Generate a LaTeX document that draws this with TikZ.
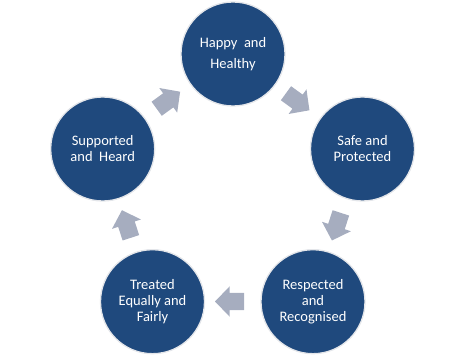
\documentclass[tikz,border=0pt]{standalone}
\usepackage{fontspec}
\setmainfont{Carlito}
\usetikzlibrary{shapes.arrows}
\definecolor{circblue}{RGB}{31,73,125}
\definecolor{arrgray}{RGB}{166,173,191}
\definecolor{ringgray}{RGB}{228,230,234}
\tikzset{
  stage/.style={circle, fill=circblue, draw=ringgray, line width=1.3pt,
    minimum size=104pt, inner sep=0pt, text=white, align=center,
    font=\fontsize{14.5}{16}\selectfont},
  cyclearrow/.style={single arrow, fill=arrgray, draw=none, inner xsep=0pt,
    inner ysep=8.5pt, minimum height=29pt, minimum width=0pt,
    single arrow head extend=6.5pt, single arrow tip angle=92}
}
\begin{document}
\begin{tikzpicture}[x=1pt,y=1pt]
\useasboundingbox (0,0) rectangle (466,356);
\node[stage] (happy) at (233,302) {Happy\ \ and\\[5.5pt]Healthy};
\node[stage] (safe) at (362.5,207) {Safe and\\Protected};
\node[stage] (resp) at (313,54.3) {Respected\\and\\Recognised};
\node[stage] (treat) at (152.5,54.3) {Treated\\Equally and\\Fairly};
\node[stage] (supp) at (102.7,207) {Supported\\and\ \ Heard};
\node[cyclearrow, rotate=36] (a1) at (165,253.3) {};
\node[cyclearrow, rotate=-36] (a2) at (294.3,256.7) {};
\node[cyclearrow, rotate=-108] (a3) at (337.7,133.3) {};
\node[cyclearrow, rotate=180] (a4) at (233.7,54.5) {};
\node[cyclearrow, rotate=108] (a5) at (127.7,128) {};
\end{tikzpicture}
\end{document}
